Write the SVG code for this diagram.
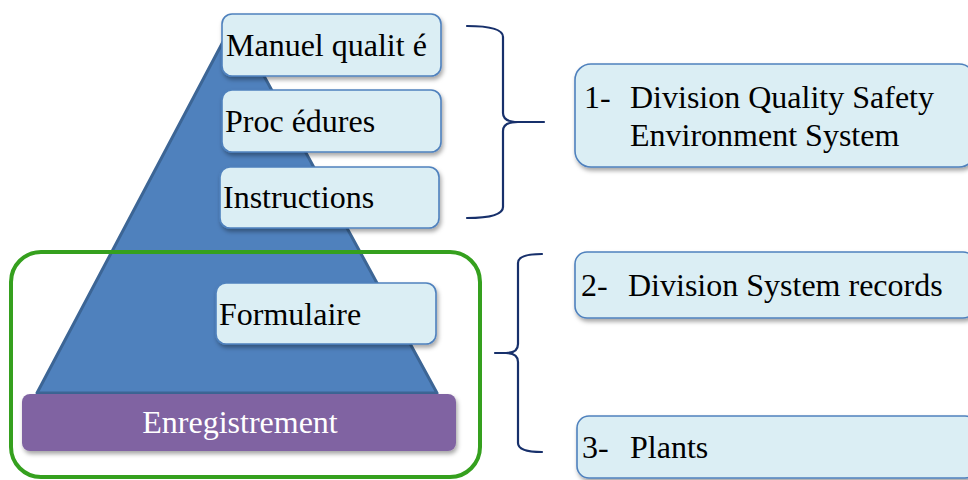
<svg xmlns="http://www.w3.org/2000/svg" width="968" height="480" viewBox="0 0 968 480">
  <defs>
    <filter id="shadow" x="-10%" y="-20%" width="130%" height="160%">
      <feDropShadow dx="1.5" dy="3" stdDeviation="2" flood-color="#000" flood-opacity="0.35"/>
    </filter>
    <style>
      .box { fill: #dbeef4; stroke: #4f81bd; stroke-width: 1.6; filter: url(#shadow); }
      .lbl { font-family: "Liberation Serif", "Times New Roman", serif; font-size: 32px; fill: #000; }
      .brace { fill: none; stroke: #17306b; stroke-width: 2.2; stroke-linecap: round; stroke-linejoin: round; }
    </style>
  </defs>
  <rect width="968" height="480" fill="#ffffff"/>

  <!-- pyramid body -->
  <g id="pyramid">
    <polygon points="234,21 437,393 37,393" fill="#4f81bd" stroke="#3c6595" stroke-width="3" stroke-linejoin="round"/>
  </g>

  <!-- frame around the lower levels -->
  <g id="records-frame">
    <rect x="11" y="252" width="469" height="225" rx="30" ry="30" fill="none" stroke="#35a01e" stroke-width="4"/>
  </g>

  <!-- pyramid level labels -->
  <g id="manuel">
    <rect class="box" x="222" y="14" width="219" height="62" rx="10"/>
    <text class="lbl" x="226" y="56">Manuel qualit é</text>
  </g>
  <g id="procedures">
    <rect class="box" x="222" y="90" width="219" height="62" rx="10"/>
    <text class="lbl" x="225" y="132">Proc édures</text>
  </g>
  <g id="instructions">
    <rect class="box" x="220" y="167" width="219" height="61" rx="10"/>
    <text class="lbl" x="223" y="208">Instructions</text>
  </g>
  <g id="formulaire">
    <rect class="box" x="216" y="283" width="220" height="61" rx="10"/>
    <text class="lbl" x="219" y="325">Formulaire</text>
  </g>
  <g id="enregistrement">
    <rect x="22" y="394" width="434" height="57" rx="8" fill="#8064a2" filter="url(#shadow)"/>
    <text class="lbl" x="240" y="433" text-anchor="middle" style="fill:#ffffff">Enregistrement</text>
  </g>

  <!-- braces linking the levels to the owners -->
  <g id="connectors">
    <path class="brace" d="M467,26 Q503,26 503,37 L503,113 Q503,122 518,122 L544,122 M518,122 Q503,122 503,131 L503,207 Q503,218 467,218"/>
    <path class="brace" d="M542,254 Q518,254 518,263 L518,344 Q518,353 506,353 L495,353 M506,353 Q518,353 518,362 L518,443 Q518,452 542,452"/>
  </g>

  <!-- owners -->
  <g id="owner-1">
    <rect class="box" x="575" y="64" width="400" height="103" rx="16"/>
    <text class="lbl" x="584" y="108">1-</text>
    <text class="lbl" x="630" y="108">Division Quality Safety</text>
    <text class="lbl" x="630" y="146">Environment System</text>
  </g>
  <g id="owner-2">
    <rect class="box" x="575" y="252" width="400" height="66" rx="12"/>
    <text class="lbl" x="581" y="296">2-</text>
    <text class="lbl" x="628" y="296">Division System records</text>
  </g>
  <g id="owner-3">
    <rect class="box" x="577" y="416" width="400" height="62" rx="12"/>
    <text class="lbl" x="582" y="458">3-</text>
    <text class="lbl" x="630" y="458">Plants</text>
  </g>
</svg>
